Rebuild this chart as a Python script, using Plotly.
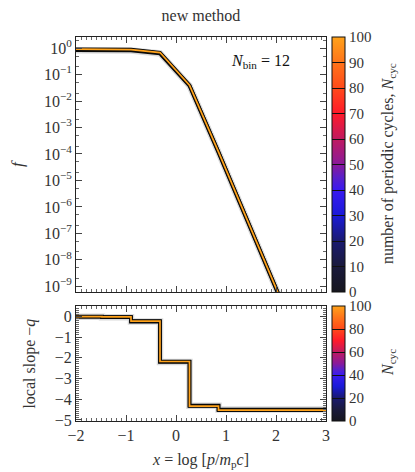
import plotly.graph_objects as go
from plotly.subplots import make_subplots

# momentum grid nodes (x = log p/m_p c) and values
x_nodes = [-2.07, -1.48, -0.90, -0.32, 0.27, 0.85, 1.43, 2.02, 2.60, 3.18]
f_final = [0.91, 0.90, 0.88, 0.68, 0.040, 1.2e-4, 3.0e-7, 7.4e-10, 1.8e-12, 4.5e-15]
f_early = [0.84, 0.84, 0.82, 0.63, 0.038, 1.15e-4, 2.9e-7, 7.1e-10, 1.7e-12, 4.3e-15]
slope_final = [-0.02, -0.03, -0.23, -2.18, -4.33, -4.53, -4.53, -4.53, -4.53, -4.53]
slope_early = [-0.02, -0.04, -0.25, -2.20, -4.31, -4.50, -4.50, -4.50, -4.50, -4.50]

cyc_ticks_top = [0, 10, 20, 30, 40, 50, 60, 70, 80, 90, 100]
cyc_ticks_bot = [0, 20, 40, 60, 80, 100]
f_tickvals = [1e0, 1e-1, 1e-2, 1e-3, 1e-4, 1e-5, 1e-6, 1e-7, 1e-8, 1e-9]
f_ticktext = ["10<sup>0</sup>"] + [f"10<sup>\u2212{k}</sup>" for k in range(1, 10)]
slope_ticks = [0, -1, -2, -3, -4, -5]
x_ticks = [-2, -1, 0, 1, 2, 3]

CMAP = [
    [0.0, "#16161e"], [0.1, "#1a1a3c"], [0.2, "#1a1a70"], [0.3, "#1a1ad8"],
    [0.4, "#3a1af0"], [0.45, "#5a20c8"], [0.5, "#8a1a9a"], [0.6, "#c01a60"],
    [0.7, "#ff1a2a"], [0.8, "#ff4a1a"], [0.9, "#ff741a"], [1.0, "#ffa21a"],
]
FONT = "Liberation Serif, Times New Roman, DejaVu Serif, serif"
TXT = "#333"

fig = make_subplots(rows=2, cols=1, row_heights=[0.69, 0.31], vertical_spacing=0.037)

def add_lines(xs, early, final, row, shape):
    fig.add_trace(go.Scatter(x=xs, y=early, mode="lines", line=dict(color="rgba(0,0,0,0.15)", width=6.5, shape=shape),
                             showlegend=False, hoverinfo="skip"), row=row, col=1)
    fig.add_trace(go.Scatter(x=xs, y=early, mode="lines", line=dict(color="#0a0a0a", width=3.8, shape=shape),
                             showlegend=False), row=row, col=1)
    fig.add_trace(go.Scatter(x=xs, y=final, mode="lines", line=dict(color="#0a0a0a", width=3.5, shape=shape),
                             showlegend=False), row=row, col=1)
    fig.add_trace(go.Scatter(x=xs, y=final, mode="lines", line=dict(color="#ffa21a", width=1.7, shape=shape),
                             showlegend=False), row=row, col=1)

add_lines(x_nodes, f_early, f_final, 1, "linear")
add_lines(x_nodes, slope_early, slope_final, 2, "hv")

# dummy traces carrying the two colorbars
fig.add_trace(go.Scatter(x=[0, 0], y=[1e-3, 1e-3], mode="markers", showlegend=False, hoverinfo="skip",
                         marker=dict(size=0.1, opacity=0, color=[0, 100], coloraxis="coloraxis")), row=1, col=1)
fig.add_trace(go.Scatter(x=[0, 0], y=[-2, -2], mode="markers", showlegend=False, hoverinfo="skip",
                         marker=dict(size=0.1, opacity=0, color=[0, 100], coloraxis="coloraxis2")), row=2, col=1)

axis_common = dict(showline=True, linecolor="#222", linewidth=1, mirror="allticks", ticks="inside",
                   ticklen=6, tickcolor="#444", showgrid=False, zeroline=False,
                   tickfont=dict(family=FONT, size=16, color=TXT))

fig.update_xaxes(range=[-2, 3], tickvals=x_ticks, showticklabels=False,
                 minor=dict(ticks="inside", ticklen=3, dtick=0.1, tickcolor="#666"), **axis_common)
fig.update_xaxes(showticklabels=True, ticktext=[str(v).replace("-", "\u2212") for v in x_ticks],
                 title=dict(text="<i>x</i> = log [<i>p</i>/<i>m</i><sub>p</sub><i>c</i>]",
                            font=dict(family=FONT, size=16, color=TXT), standoff=10), row=2, col=1)
fig.update_yaxes(type="log", range=[-9.22, 0.42], tickvals=f_tickvals, ticktext=f_ticktext,
                 minor=dict(ticks="inside", ticklen=3, tickcolor="#666"),
                 title=dict(text="<i>f</i>", font=dict(family=FONT, size=17, color=TXT), standoff=37),
                 row=1, col=1, **axis_common)
fig.update_yaxes(range=[-5.05, 0.48], tickvals=slope_ticks,
                 ticktext=[str(v).replace("-", "\u2212") for v in slope_ticks],
                 minor=dict(ticks="inside", ticklen=3, dtick=0.1, tickcolor="#666"),
                 title=dict(text="local slope \u2212<i>q</i>", font=dict(family=FONT, size=16, color=TXT),
                            standoff=15),
                 row=2, col=1, **axis_common)

cb_common = dict(thickness=13, x=1.024, xanchor="left", xpad=0, ypad=0, outlinecolor="#111", outlinewidth=1,
                 ticks="inside", ticklen=13, tickcolor="#111", tickwidth=1,
                 tickfont=dict(family=FONT, size=15, color=TXT))
cb_label = dict(xref="paper", yref="paper", x=1.248, textangle=-90, showarrow=False,
                xanchor="center", yanchor="middle", font=dict(family=FONT, size=16, color=TXT))
fig.update_layout(
    coloraxis=dict(colorscale=CMAP, cmin=0, cmax=100,
                   colorbar=dict(y=1, yanchor="top", len=0.665, tickvals=cyc_ticks_top, **cb_common)),
    coloraxis2=dict(colorscale=CMAP, cmin=0, cmax=100,
                    colorbar=dict(y=0, yanchor="bottom", len=0.3, tickvals=cyc_ticks_bot, **cb_common)),
    # page body adds an 8px margin, so the figure is 8px smaller and shifted
    width=407, height=464,
    margin=dict(l=68, r=89, t=29, b=51, autoexpand=False),
    plot_bgcolor="white", paper_bgcolor="white",
    title=dict(text="new method", x=0.474, xanchor="center", y=0.984, yanchor="middle",
               font=dict(family=FONT, size=16, color=TXT)),
    annotations=[
        dict(text="<i>N</i><sub>bin</sub> = 12", xref="paper", yref="paper", x=0.736, y=0.935,
             xanchor="center", yanchor="middle", showarrow=False, font=dict(family=FONT, size=16, color="#111")),
        dict(text="number of periodic cycles, <i>N</i><sub>cyc</sub>", y=0.669, **cb_label),
        dict(text="<i>N</i><sub>cyc</sub>", y=0.151, **cb_label),
    ],
)

fig.write_html("out.html")
